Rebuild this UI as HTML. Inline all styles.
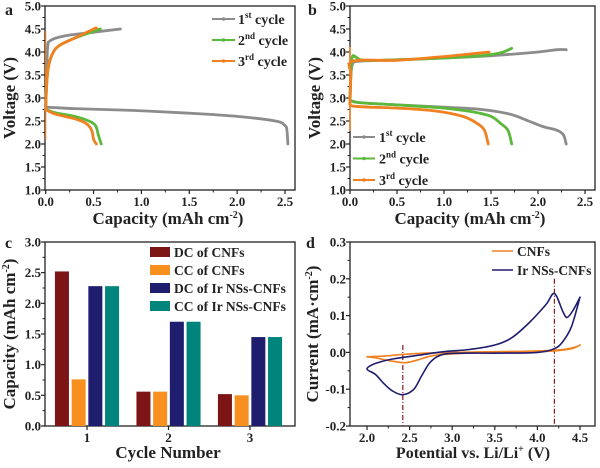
<!DOCTYPE html>
<html><head><meta charset="utf-8"><style>
body{margin:0;background:#fff}
svg{display:block;font-family:"Liberation Serif",serif;font-weight:bold}
svg text{font-family:"Liberation Serif",serif;font-weight:bold}
</style></head><body>
<svg id="s" width="600" height="468" viewBox="0 0 600 468"></svg>
<script>
// ---- data ----
const aGrayDis=[[0,2.8],[0.3,2.77],[0.9,2.73],[1.5,2.67],[2.0,2.6],[2.4,2.5],[2.5,2.4],[2.52,2.3],[2.53,2.0]];
const aGrayChg=[[0,2.8],[0.01,3.5],[0.02,4.1],[0.05,4.25],[0.2,4.35],[0.5,4.43],[0.78,4.5]];
const aGreenDis=[[0,2.75],[0.1,2.68],[0.3,2.6],[0.45,2.5],[0.52,2.4],[0.55,2.2],[0.58,2.0]];
const aGreenChg=[[0,2.8],[0.01,3.3],[0.03,3.7],[0.08,4.0],[0.15,4.15],[0.3,4.3],[0.5,4.45],[0.57,4.5]];
const aOrangeDis=[[0,2.75],[0.1,2.65],[0.3,2.55],[0.42,2.45],[0.48,2.3],[0.5,2.1],[0.53,2.0]];
const aOrangeChg=[[0,2.75],[0.01,3.3],[0.03,3.7],[0.08,4.0],[0.15,4.15],[0.3,4.3],[0.5,4.5],[0.53,4.52]];
const aOrangeSpike=[[0,2.1],[0,4.45]];
const bGrayDis=[[0,2.95],[0.1,2.9],[0.5,2.85],[1.0,2.8],[1.4,2.75],[1.7,2.65],[1.9,2.5],[2.05,2.38],[2.2,2.3],[2.27,2.2],[2.3,2.0]];
const bGrayChg=[[0,2.95],[0.01,3.5],[0.03,3.75],[0.1,3.8],[0.5,3.83],[1.0,3.87],[1.5,3.92],[2.0,4.0],[2.2,4.05],[2.3,4.05]];
const bGreenDis=[[0,2.95],[0.1,2.9],[0.5,2.85],[1.0,2.78],[1.3,2.7],[1.5,2.6],[1.6,2.45],[1.68,2.3],[1.72,2.0]];
const bGreenChg=[[0,3.0],[0.02,3.85],[0.07,3.88],[0.15,3.82],[0.5,3.83],[1.0,3.87],[1.4,3.92],[1.6,3.98],[1.72,4.08]];
const bOrangeDis=[[0,2.9],[0.05,2.82],[0.5,2.78],[0.9,2.72],[1.2,2.6],[1.35,2.45],[1.43,2.3],[1.47,2.0]];
const bOrangeChg=[[0,2.9],[0.01,3.5],[0.03,3.8],[0.5,3.82],[1.0,3.9],[1.48,4.0]];
const bOrangeSpike=[[0,2.3],[0,4.1]];
const cCategories=["1","2","3"];
const cDcCNF=[2.52,0.56,0.52];
const cCcCNF=[0.76,0.56,0.50];
const cDcIr=[2.28,1.70,1.45];
const cCcIr=[2.28,1.70,1.45];
const dIr=[[4.5,0.15],[4.42,0.115],[4.35,0.095],[4.3,0.11],[4.2,0.16],[4.1,0.13],[3.9,0.08],[3.7,0.04],[3.5,0.02],[3.2,0.008],[2.9,0.002],[2.6,-0.008],[2.3,-0.018],[2.1,-0.03],[2.0,-0.045],[2.1,-0.06],[2.2,-0.085],[2.3,-0.105],[2.42,-0.115],[2.55,-0.1],[2.65,-0.06],[2.75,-0.025],[2.9,-0.005],[3.2,-0.002],[3.6,-0.002],[4.0,0.0],[4.2,0.01],[4.3,0.03],[4.4,0.07],[4.5,0.15]];
const dCNF=[[2.0,-0.012],[2.2,-0.01],[2.4,-0.006],[2.7,-0.002],[3.0,0.0],[3.5,0.002],[4.0,0.004],[4.3,0.008],[4.45,0.015],[4.5,0.02],[4.4,0.01],[4.2,0.004],[3.8,0.0],[3.2,-0.002],[2.8,-0.008],[2.6,-0.02],[2.45,-0.028],[2.3,-0.024],[2.1,-0.015],[2.0,-0.012]];
const dPeaks=[[2.42,0.02],[4.2,0.2]];

const S=document.getElementById('s');
const NS='http://www.w3.org/2000/svg';
function el(t,a,parent){const e=document.createElementNS(NS,t);for(const k in a)e.setAttribute(k,a[k]);(parent||S).appendChild(e);return e;}
function lin(d0,d1,r0,r1){return v=>r0+(v-d0)/(d1-d0)*(r1-r0);}
function txt(x,y,s,size,anchor,extra){const t=el('text',Object.assign({x:x,y:y,'font-size':size,'text-anchor':anchor||'middle',fill:'#222','font-family':'Liberation Serif, serif','font-weight':'bold'},extra||{}));t.innerHTML=s;return t;}

function axes(o){
  const g=el('g',{});
  
  
  el('rect',{x:o.L,y:o.T,width:o.R-o.L,height:o.B-o.T,fill:'none',stroke:'#222','stroke-width':1.3},g);
  o.yticks.forEach((v,i)=>{const y=o.ys(v);el('line',{x1:o.L-4,x2:o.L,y1:y,y2:y,stroke:'#222','stroke-width':1.2},g);
    const t=txt(o.L-4,y+4.5,o.yfmt(v),13,'end');
    if(i<o.yticks.length-1){const ym=o.ys((v+o.yticks[i+1])/2);el('line',{x1:o.L-2.5,x2:o.L,y1:ym,y2:ym,stroke:'#222'},g);}});
  o.xticks.forEach((v,i)=>{const x=o.xs(v);el('line',{x1:x,x2:x,y1:o.B,y2:o.B+4,stroke:'#222','stroke-width':1.2},g);
    const t=txt(x,o.B+16,o.xfmt(v),13);
    if(o.minor&&i<o.xticks.length-1){const xm=o.xs((v+o.xticks[i+1])/2);el('line',{x1:xm,x2:xm,y1:o.B,y2:o.B+2.5,stroke:'#222'},g);}});
}
function line(pts,xs,ys,col,w,name,extra,smooth){
  const P=pts.map(p=>[xs(p[0]),ys(p[1])]);
  let d='M'+P[0][0].toFixed(1)+','+P[0][1].toFixed(1);
  for(let i=1;i<P.length;i++){
    if(smooth){const p0=P[Math.max(0,i-2)],p1=P[i-1],p2=P[i],p3=P[Math.min(P.length-1,i+1)];
      const c1=[p1[0]+(p2[0]-p0[0])/6,p1[1]+(p2[1]-p0[1])/6],c2=[p2[0]-(p3[0]-p1[0])/6,p2[1]-(p3[1]-p1[1])/6];
      d+=' C'+c1[0].toFixed(1)+','+c1[1].toFixed(1)+' '+c2[0].toFixed(1)+','+c2[1].toFixed(1)+' '+p2[0].toFixed(1)+','+p2[1].toFixed(1);}
    else d+=' L'+P[i][0].toFixed(1)+','+P[i][1].toFixed(1);
  }
  const p=el('path',Object.assign({d:d,fill:'none',stroke:col,'stroke-width':w,'stroke-linejoin':'round','stroke-linecap':'round'},extra||{}));
  
  
}
const GRAY='#8c8c8c',GREEN='#5cb83a',ORANGE='#f08020';
const f1=v=>v.toFixed(1);

// ---- panel a ----
{const xs=lin(0,2.5,45.7,285),ys=lin(1,5,190,6);
axes({name:'panel-a',L:45,T:6,R:295,B:190,xs,ys,xticks:[0,0.5,1,1.5,2,2.5],yticks:[1,1.5,2,2.5,3,3.5,4,4.5,5],xfmt:f1,yfmt:f1,minor:true});
line(aGrayDis,xs,ys,GRAY,2.8,'a-cycle1-discharge',{},true);line(aGrayChg,xs,ys,GRAY,2.8,'a-cycle1-charge',{},true);
line(aGreenDis,xs,ys,GREEN,2.8,'a-cycle2-discharge',{},true);line(aGreenChg,xs,ys,GREEN,2.8,'a-cycle2-charge',{},true);
line(aOrangeSpike,xs,ys,ORANGE,1.2,'a-cycle3-spike');
line(aOrangeDis,xs,ys,ORANGE,2.8,'a-cycle3-discharge',{},true);line(aOrangeChg,xs,ys,ORANGE,2.8,'a-cycle3-charge',{},true);
[[GRAY,'1<tspan font-size="9" dy="-6">st</tspan><tspan dy="6"> cycle</tspan>'],[GREEN,'2<tspan font-size="9" dy="-6">nd</tspan><tspan dy="6"> cycle</tspan>'],[ORANGE,'3<tspan font-size="9" dy="-6">rd</tspan><tspan dy="6"> cycle</tspan>']].forEach((l,i)=>{
  const y=19+i*21;const g=el('g',{});
  el('line',{x1:212,x2:235,y1:y,y2:y,stroke:l[0],'stroke-width':2},g);el('circle',{cx:223.5,cy:y,r:1.8,fill:l[0]},g);
  const t=txt(238,y+5,l[1],14,'start');g.appendChild(t);});
let t=txt(168,224,'Capacity (mAh cm<tspan font-size="10" dy="-6">-2</tspan><tspan dy="6">)</tspan>',17);
t=txt(0,0,'Voltage (V)',17,'middle',{transform:'translate(15,98) rotate(-90)'});
t=txt(5,15,'a',16,'start');}

// ---- panel b ----
{const xs=lin(0,2.5,350,585),ys=lin(1,5,190,6);
axes({name:'panel-b',L:350,T:6,R:595,B:190,xs,ys,xticks:[0,0.5,1,1.5,2,2.5],yticks:[1,1.5,2,2.5,3,3.5,4,4.5,5],xfmt:f1,yfmt:f1,minor:true});
line(bGrayDis,xs,ys,GRAY,2.8,'b-cycle1-discharge',{},true);line(bGrayChg,xs,ys,GRAY,2.8,'b-cycle1-charge',{},true);
line(bGreenDis,xs,ys,GREEN,2.8,'b-cycle2-discharge',{},true);line(bGreenChg,xs,ys,GREEN,2.8,'b-cycle2-charge',{},true);
line(bOrangeSpike,xs,ys,ORANGE,1.5,'b-cycle3-spike');
line(bOrangeDis,xs,ys,ORANGE,2.8,'b-cycle3-discharge',{},true);line(bOrangeChg,xs,ys,ORANGE,2.8,'b-cycle3-charge',{},true);
[[GRAY,'1<tspan font-size="9" dy="-6">st</tspan><tspan dy="6"> cycle</tspan>'],[GREEN,'2<tspan font-size="9" dy="-6">nd</tspan><tspan dy="6"> cycle</tspan>'],[ORANGE,'3<tspan font-size="9" dy="-6">rd</tspan><tspan dy="6"> cycle</tspan>']].forEach((l,i)=>{
  const y=137+i*21.5;const g=el('g',{});
  el('line',{x1:353,x2:375,y1:y,y2:y,stroke:l[0],'stroke-width':2},g);el('circle',{cx:364,cy:y,r:1.8,fill:l[0]},g);
  const t=txt(379,y+5,l[1],14,'start');g.appendChild(t);});
let t=txt(470,224,'Capacity (mAh cm<tspan font-size="10" dy="-6">-2</tspan><tspan dy="6">)</tspan>',17);
t=txt(0,0,'Voltage (V)',17,'middle',{transform:'translate(320,98) rotate(-90)'});
t=txt(308,15,'b',16,'start');}

// ---- panel c ----
{const ys=lin(0,3,426,242);const xc=i=>87+i*81.5;
axes({name:'panel-c',L:45,T:242,R:295,B:426,xs:v=>xc(v),ys,xticks:[0,1,2],yticks:[0,0.5,1,1.5,2,2.5,3],xfmt:v=>cCategories[v],yfmt:f1,minor:false});
const series=[[cDcCNF,'#7d1416','dc-cnfs'],[cCcCNF,'#f7901e','cc-cnfs'],[cDcIr,'#1f1d6e','dc-ir-nss-cnfs'],[cCcIr,'#00857c','cc-ir-nss-cnfs']];
series.forEach((s,k)=>{s[0].forEach((v,i)=>{const x=xc(i)+(k-1.5)*16.7-7;
  const r=el('rect',{x:x,y:ys(v),width:14,height:ys(0)-ys(v),fill:s[1]});
  
  });});
['DC of CNFs','CC of CNFs','DC of Ir NSs-CNFs','CC of Ir NSs-CNFs'].forEach((n,k)=>{const y=252+k*18;
  const g=el('g',{});
  el('rect',{x:150,y:y-5,width:20,height:10,fill:series[k][1]},g);g.appendChild(txt(174,y+5,n,13.5,'start'));});
let t=txt(168,458,'Cycle Number',17);
t=txt(0,0,'Capacity (mAh cm<tspan font-size="10" dy="-6">-2</tspan><tspan dy="6">)</tspan>',17,'middle',{transform:'translate(15,334) rotate(-90)'});
t=txt(5,248,'c',16,'start');}

// ---- panel d ----
{const xs=lin(2,4.5,367,580),ys=lin(-0.2,0.3,426,242);
axes({name:'panel-d',L:350,T:242,R:595,B:426,xs,ys,xticks:[2,2.5,3,3.5,4,4.5],yticks:[-0.2,-0.1,0,0.1,0.2,0.3],xfmt:f1,yfmt:f1,minor:true});
dPeaks.forEach(p=>line([[p[0],p[1]],[p[0],-0.2]],xs,ys,'#8b1a1a',1.2,'d-peak-marker',{'stroke-dasharray':'5,2,1,2','stroke-linecap':'butt'}));
line(dCNF,xs,ys,ORANGE,1.6,'d-cnfs-curve',{},true);
line(dIr,xs,ys,'#1f1d6e',1.6,'d-ir-nss-cnfs-curve',{},true);
[['#f08020','CNFs'],['#1f1d6e','Ir NSs-CNFs']].forEach((l,i)=>{const y=251+i*19;
  const g=el('g',{});
  el('line',{x1:492,x2:513,y1:y,y2:y,stroke:l[0],'stroke-width':1.6},g);g.appendChild(txt(517,y+5,l[1],13.5,'start'));});
let t=txt(473,458,'Potential vs. Li/Li<tspan font-size="10" dy="-6">+</tspan><tspan dy="6"> (V)</tspan>',16);
t=txt(0,0,'Current (mA·cm<tspan font-size="10" dy="-6">-2</tspan><tspan dy="6">)</tspan>',17,'middle',{transform:'translate(318,334) rotate(-90)'});
t=txt(306,248,'d',16,'start');}
</script>
</body></html>
